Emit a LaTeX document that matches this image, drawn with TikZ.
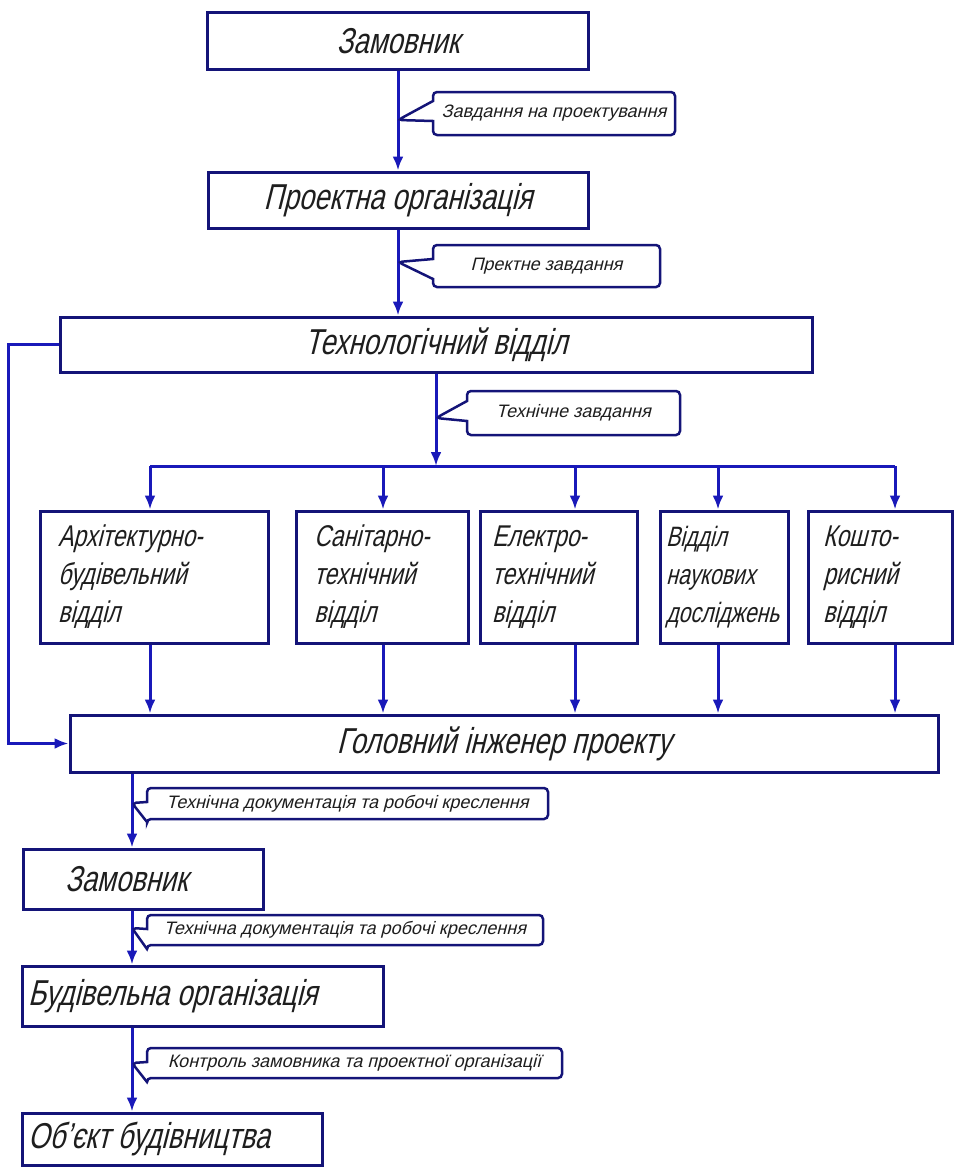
\documentclass[tikz,border=0pt]{standalone}
\usepackage{fontspec}
\usetikzlibrary{arrows.meta,shapes.callouts}
\newfontfamily\gostfont{Liberation Sans}[FakeSlant=0.25,FakeStretch=0.76]
\newfontfamily\gostnote{Liberation Sans}[FakeSlant=0.25]
\definecolor{boxblue}{RGB}{20,20,120}
\definecolor{lineblue}{RGB}{25,25,185}
\definecolor{inkgrey}{RGB}{30,30,30}

\begin{document}
\begin{tikzpicture}[x = 1pt, y = -1pt,
                    unit/.style  = {rectangle, draw = boxblue, line width = 3pt, fill = white, inner sep = 0pt, text = inkgrey, font = \gostfont\fontsize{36}{40}\selectfont},
                    dept/.style  = {unit, align = left, font = \gostfont\fontsize{30}{38}\selectfont},
                    note/.style  = {rectangle callout, draw = boxblue, line width = 2.5pt, rounded corners = 4pt, fill = white, inner sep = 0pt, callout pointer width = 20pt, text = inkgrey, font = \gostnote\fontsize{18}{20}\selectfont},
                    flow/.style  = {draw = lineblue, line width = 3pt, -{Latex[length = 14pt, width = 11pt]}},
                    wire/.style  = {draw = lineblue, line width = 3pt}
                    ]
    \path[fill = white] (0, 0) rectangle (956, 1167);

    \node[unit, minimum width = 381pt, minimum height = 57pt] (zam1)   at (398, 41)    {Замовник};
    \node[unit, minimum width = 380pt, minimum height = 56pt] (proekt) at (398, 200)   {Проектна організація};
    \node[unit, minimum width = 752pt, minimum height = 55pt] (tekh)   at (436, 344.5) {Технологічний відділ};

    \node[dept, minimum width = 228pt, minimum height = 132pt, text width = 192pt] (d1) at (154, 577)   {Архітектурно-\\будівельний\\відділ};
    \node[dept, minimum width = 172pt, minimum height = 132pt, text width = 136pt] (d2) at (382, 577)   {Санітарно-\\технічний\\відділ};
    \node[dept, minimum width = 157pt, minimum height = 132pt, text width = 133pt] (d3) at (558.5, 577) {Електро-\\технічний\\відділ};
    \node[dept, minimum width = 128pt, minimum height = 132pt, text width = 116pt, font = \gostfont\fontsize{28}{38}\selectfont] (d4) at (724, 577) {Відділ\\наукових\\досліджень};
    \node[dept, minimum width = 144pt, minimum height = 132pt, text width = 114pt] (d5) at (880, 577)   {Кошто-\\рисний\\відділ};

    \node[unit, minimum width = 868pt, minimum height = 57pt] (head) at (504, 743.5) {Головний інженер проекту};

    \node[unit, minimum width = 240pt, minimum height = 60pt] (zam2) at (143, 879)   {\makebox[156pt][l]{Замовник}};
    \node[unit, minimum width = 361pt, minimum height = 60pt] (bud)  at (202.5, 996) {\makebox[349pt][l]{Будівельна організація}};
    \node[unit, minimum width = 300pt, minimum height = 52pt] (obj)  at (172, 1139)  {\makebox[288pt][l]{Об’єкт будівництва}};

    % bus and spine
    \coordinate (a1) at (150, 466);
    \coordinate (a2) at (383, 466);
    \coordinate (a3) at (575, 466);
    \coordinate (a4) at (718, 466);
    \coordinate (a5) at (895, 466);
    \coordinate (spine) at (132, 0);

    \draw[flow] (zam1) -- (proekt);
    \draw[flow] (proekt.south) -- (proekt.south |- tekh.north);
    \draw[flow] (tekh.south) -- (tekh.south |- a1);
    \draw[wire] (a1) -- (a5);
    \foreach \i in {1, ..., 5} {
        \draw[flow] (a\i) -- (a\i |- d\i.north);
        \draw[flow] (a\i |- d\i.south) -- (a\i |- head.north);
    }
    \draw[flow] (tekh.west) -- ++ (-50, 0) |- (head.west);
    \draw[flow] (head.south -| spine) -- (zam2.north -| spine);
    \draw[flow] (zam2.south -| spine) -- (bud.north -| spine);
    \draw[flow] (bud.south -| spine) -- (obj.north -| spine);

    % notes on the flows
    \coordinate (t1) at (398, 120);
    \coordinate (t2) at (398, 262);
    \coordinate (t3) at (436, 418);
    \coordinate (t4) at (132, 803);
    \coordinate (t5) at (132, 928);
    \coordinate (t6) at (132, 1063);

    \node[note, minimum width = 242pt, minimum height = 43pt, callout absolute pointer = {(t1)}] (n1) at (554, 113.5)  {Завдання на проектування};
    \node[note, minimum width = 227pt, minimum height = 42pt, callout absolute pointer = {(t2)}] (n2) at (546.5, 266)  {Пректне завдання};
    \node[note, minimum width = 213pt, minimum height = 44pt, callout absolute pointer = {(t3)}] (n3) at (573.5, 413)  {Технічне завдання};
    \node[note, minimum width = 401pt, minimum height = 31pt, callout absolute pointer = {(t4)}] (n4) at (347.5, 803.5) {Технічна документація та робочі креслення};
    \node[note, minimum width = 396pt, minimum height = 30pt, callout absolute pointer = {(t5)}] (n5) at (345, 930)    {Технічна документація та робочі креслення};
    \node[note, minimum width = 415pt, minimum height = 30pt, callout absolute pointer = {(t6)}] (n6) at (354.5, 1063) {Контроль замовника та проектної організації};
\end{tikzpicture}
\end{document}
